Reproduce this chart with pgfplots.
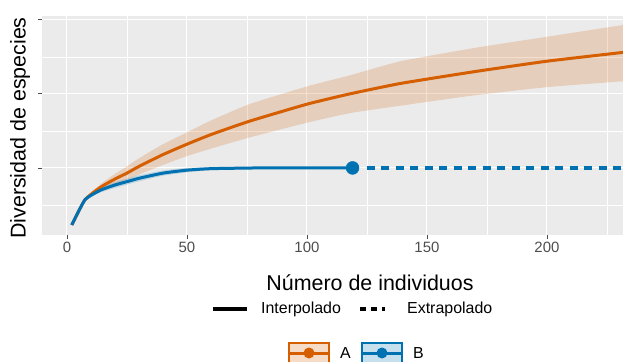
\documentclass[border=0pt]{standalone}
\usepackage{fontspec}
\setmainfont{Liberation Sans}
\usepackage{pgfplots}
\usepackage{pgfplotstable}
\pgfplotsset{compat=1.18}
\usepgfplotslibrary{fillbetween}
\definecolor{orA}{HTML}{D55E00}
\definecolor{blB}{HTML}{0072B2}
\definecolor{panel}{HTML}{EBEBEB}
\definecolor{grey30}{HTML}{4D4D4D}

\pgfplotstableread{
x m lo hi
2 2.3 2.3 2.3
7.5 5.7 5.6 5.8
14 7.4 7.0 7.8
20 8.5 7.8 9.2
25 9.3 8.4 10.2
30 10.2 9.1 11.3
40 11.8 10.4 13.2
50 13.2 11.6 14.8
60 14.5 12.6 16.4
76 16.3 14.1 18.6
100 18.6 16.1 21.0
118 20.0 17.4 22.5
139 21.4 18.4 24.4
170 23.0 19.8 26.2
200 24.4 20.9 27.7
232 25.6 21.7 29.3
}\dataA

\pgfplotstableread{
x m lo hi
2 2.3 2.3 2.3
7.5 5.7 5.6 5.8
14 7.0 6.7 7.3
20 7.7 7.3 8.1
25 8.15 7.75 8.55
30 8.6 8.2 9.0
40 9.3 8.95 9.65
50 9.7 9.4 10.0
60 9.9 9.7 10.1
80 10.0 9.9 10.1
100 10.0 9.95 10.05
119 10.0 10.0 10.0
}\dataB

\begin{document}
\begin{tikzpicture}
\begin{axis}[
  at={(0,0)}, anchor=south west,
  scale only axis, width=581bp, height=219bp,
  xmin=-10.4, xmax=231.7, ymin=0.95, ymax=30.5,
  axis background/.style={fill=panel},
  axis line style={draw=none},
  xtick={0,50,100,150,200}, minor xtick={25,75,125,175,225},
  ytick={10,20,30}, minor ytick={5,15,25}, yticklabels={},
  grid=both,
  major grid style={white, line width=1bp},
  minor grid style={white, line width=0.5bp},
  tick align=outside, major tick length=4bp, minor tick length=0pt,
  tick style={grey30, line width=0.7bp},
  xtick pos=bottom, ytick pos=left,
  xticklabel style={font=\fontsize{15}{15}\selectfont, text=grey30},
  /pgf/number format/assume math mode=true,
]
\addplot[name path=Ahi, draw=none, forget plot, smooth, tension=0.3] table[x=x,y=hi]{\dataA};
\addplot[name path=Alo, draw=none, forget plot, smooth, tension=0.3] table[x=x,y=lo]{\dataA};
\addplot[fill=orA, fill opacity=0.2, draw=none] fill between[of=Ahi and Alo];
\addplot[name path=Bhi, draw=none, forget plot, smooth, tension=0.3] table[x=x,y=hi]{\dataB};
\addplot[name path=Blo, draw=none, forget plot, smooth, tension=0.3] table[x=x,y=lo]{\dataB};
\addplot[fill=blB, fill opacity=0.2, draw=none] fill between[of=Bhi and Blo];
\addplot[orA, line width=3bp, smooth, tension=0.3] table[x=x,y=m]{\dataA};
\addplot[blB, line width=3bp, smooth, tension=0.3] table[x=x,y=m]{\dataB};
\addplot[blB, line width=3.2bp, dash pattern=on 8bp off 6.5bp] coordinates {(125,10) (232,10)};
\addplot[blB, only marks, mark=*, mark size=6.5bp, mark options={fill=blB, draw=blB}] coordinates {(119,10)};
\end{axis}
\node[rotate=90, font=\fontsize{21.5}{22}\selectfont] at (-22bp,107bp) {Diversidad de especies};
\node[font=\fontsize{21.5}{22}\selectfont] at (328bp,-48bp) {Número de individuos};
\draw[black, line width=3.2bp] (171bp,-74bp) -- (205bp,-74bp);
\node[anchor=west, font=\fontsize{16}{16}\selectfont, inner sep=0pt] at (219bp,-74bp) {Interpolado};
\draw[black, line width=3.2bp, dash pattern=on 6bp off 5bp] (318bp,-74bp) -- (343bp,-74bp);
\node[anchor=west, font=\fontsize{16}{16}\selectfont, inner sep=0pt] at (365bp,-74bp) {Extrapolado};
\draw[orA, line width=1.2bp, fill=orA!22] (247bp,-108bp) rectangle (287bp,-132bp);
\draw[orA, line width=3bp] (247bp,-118bp) -- (287bp,-118bp);
\fill[orA] (267bp,-118bp) circle (5.5bp);
\node[anchor=base west, font=\fontsize{16}{16}\selectfont, inner sep=0pt] at (298bp,-123bp) {A};
\draw[blB, line width=1.2bp, fill=blB!22] (320bp,-108bp) rectangle (360bp,-132bp);
\draw[blB, line width=3bp] (320bp,-118bp) -- (360bp,-118bp);
\fill[blB] (340bp,-118bp) circle (5.5bp);
\node[anchor=base west, font=\fontsize{16}{16}\selectfont, inner sep=0pt] at (371bp,-123bp) {B};
\pgfresetboundingbox
\path[use as bounding box] (-42bp,-127bp) rectangle (581bp,235bp);
\end{tikzpicture}
\end{document}
